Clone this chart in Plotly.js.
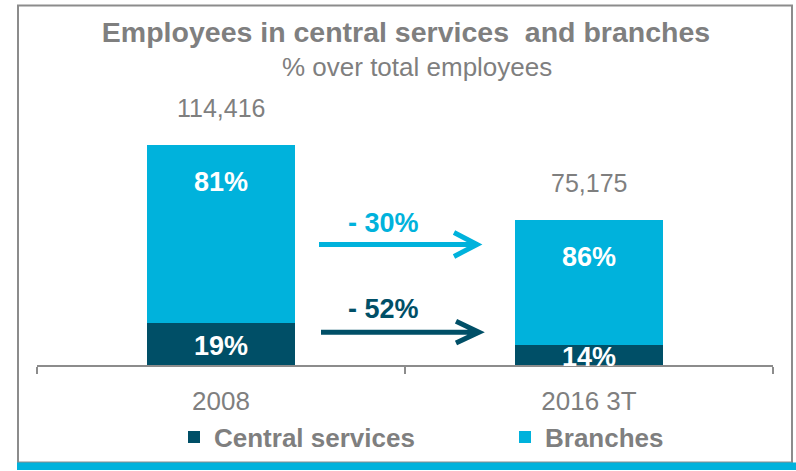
<!DOCTYPE html>
<html>
<head>
<meta charset="utf-8">
<script src="https://cdn.plot.ly/plotly-3.0.1.min.js"></script>
<style>html,body{margin:0;padding:0;background:#fff;}#chart{width:796px;height:471px;}</style>
</head>
<body>
<div id="chart"></div>
<script>
// ---- data ----
const categories = ['2008', '2016 3T'];
const totalLabels = ['114,416', '75,175'];
const centralEmployees = [21739, 10525];
const branchEmployees = [92677, 64650];
const centralPctLabels = ['19%', '14%'];
const branchPctLabels = ['81%', '86%'];
const changeLabels = ['- 30%', '- 52%'];   // branches, central
const seriesNames = ['Central services', 'Branches'];
const titleText = 'Employees in central services  and branches';
const subtitleText = '% over total employees';

// ---- styling ----
const FONT = '"Liberation Sans", Arial, sans-serif';
const GRAY = '#7f7f7f';
const CYAN = '#00b2dc';
const DARK = '#004f67';
const W = 796, H = 471;
const M = {l: 37, r: 23, t: 115, b: 105};
const PW = W - M.l - M.r, PH = H - M.t - M.b;
const px = x => (x - M.l) / PW;          // pixel -> paper x
const py = y => (H - M.b - y) / PH;       // pixel -> paper y

const traces = [
  {type: 'bar', name: seriesNames[0], x: categories, y: centralEmployees,
   marker: {color: DARK}, width: 0.4, hoverinfo: 'none', legend: 'legend'},
  {type: 'bar', name: seriesNames[1], x: categories, y: branchEmployees,
   marker: {color: CYAN}, width: 0.4, hoverinfo: 'none', legend: 'legend2'}
];

const annotations = [];
categories.forEach((c, i) => {
  const total = centralEmployees[i] + branchEmployees[i];
  annotations.push({x: i, y: total, xref: 'x', yref: 'y', xanchor: 'center', yanchor: 'middle',
    text: totalLabels[i], showarrow: false, yshift: 37, font: {family: FONT, size: 25, color: GRAY}});
  annotations.push({x: i, y: total, xref: 'x', yref: 'y', xanchor: 'center', yanchor: 'middle',
    text: '<b>' + branchPctLabels[i] + '</b>', showarrow: false, yshift: -37,
    font: {family: FONT, size: 27, color: '#ffffff'}});
  annotations.push({x: i, y: centralEmployees[i] / 2, xref: 'x', yref: 'y', xanchor: 'center', yanchor: 'middle',
    text: '<b>' + centralPctLabels[i] + '</b>', showarrow: false, yshift: -2,
    font: {family: FONT, size: 27, color: '#ffffff'}});
});
// change labels
annotations.push({xref: 'paper', yref: 'paper', x: px(383), y: py(223), xanchor: 'center', yanchor: 'middle',
  text: '<b>' + changeLabels[0] + '</b>', showarrow: false, font: {family: FONT, size: 27, color: CYAN}});
annotations.push({xref: 'paper', yref: 'paper', x: px(383), y: py(310), xanchor: 'center', yanchor: 'middle',
  text: '<b>' + changeLabels[1] + '</b>', showarrow: false, font: {family: FONT, size: 27, color: DARK}});
// subtitle
annotations.push({xref: 'paper', yref: 'paper', x: px(417), y: py(67), xanchor: 'center', yanchor: 'middle',
  text: subtitleText, showarrow: false, font: {family: FONT, size: 26, color: GRAY}});

function arrowPath(x0, x1, y, dx, dy) {
  return 'M' + px(x0) + ',' + py(y) + ' L' + px(x1) + ',' + py(y) +
         ' M' + px(x1 - dx) + ',' + py(y - dy) + ' L' + px(x1) + ',' + py(y) + ' L' + px(x1 - dx) + ',' + py(y + dy);
}

const shapes = [
  // frame
  {type: 'rect', xref: 'paper', yref: 'paper', x0: px(18), x1: px(792), y0: py(464), y1: py(5),
   line: {color: '#8c8c8c', width: 2}, fillcolor: 'rgba(0,0,0,0)', layer: 'below'},
  // bottom cyan band
  {type: 'rect', xref: 'paper', yref: 'paper', x0: px(17), x1: px(797), y0: py(471.5), y1: py(464),
   line: {width: 0}, fillcolor: CYAN},
  // arrows
  {type: 'path', xref: 'paper', yref: 'paper', path: arrowPath(319, 477, 245, 23, 12),
   line: {color: CYAN, width: 5}},
  {type: 'path', xref: 'paper', yref: 'paper', path: arrowPath(321, 479, 333, 23, 11),
   line: {color: DARK, width: 5}}
];

const legendCommon = {
  orientation: 'h', xanchor: 'left', xref: 'paper', yref: 'paper', y: py(437), yanchor: 'middle',
  font: {family: FONT, size: 26, color: GRAY, weight: 'bold'},
  bgcolor: 'rgba(0,0,0,0)', borderwidth: 0, itemwidth: 30
};

const layout = {
  width: W, height: H,
  margin: M,
  paper_bgcolor: '#ffffff', plot_bgcolor: '#ffffff',
  barmode: 'stack',
  showlegend: true,
  title: {
    text: '<b>' + titleText + '</b>',
    x: 406 / W, xanchor: 'center', xref: 'container', y: 1 - 32 / H, yref: 'container', yanchor: 'middle',
    font: {family: FONT, size: 28.5, color: GRAY}
  },
  xaxis: {
    type: 'category', range: [-0.5, 1.5], fixedrange: true,
    showline: true, linecolor: '#8c8c8c', linewidth: 2,
    ticks: 'outside', tickson: 'boundaries', ticklen: 7, tickcolor: '#8c8c8c', tickwidth: 2,
    ticklabelstandoff: 12,
    tickfont: {family: FONT, size: 26, color: GRAY},
    showgrid: false, zeroline: false, automargin: false
  },
  yaxis: {
    range: [0, 130000], visible: false, showgrid: false, zeroline: false, fixedrange: true
  },
  legend: Object.assign({}, legendCommon, {x: px(174)}),
  legend2: Object.assign({}, legendCommon, {x: px(505)}),
  annotations: annotations,
  shapes: shapes
};

Plotly.newPlot('chart', traces, layout, {displayModeBar: false, staticPlot: true});
</script>
</body>
</html>
